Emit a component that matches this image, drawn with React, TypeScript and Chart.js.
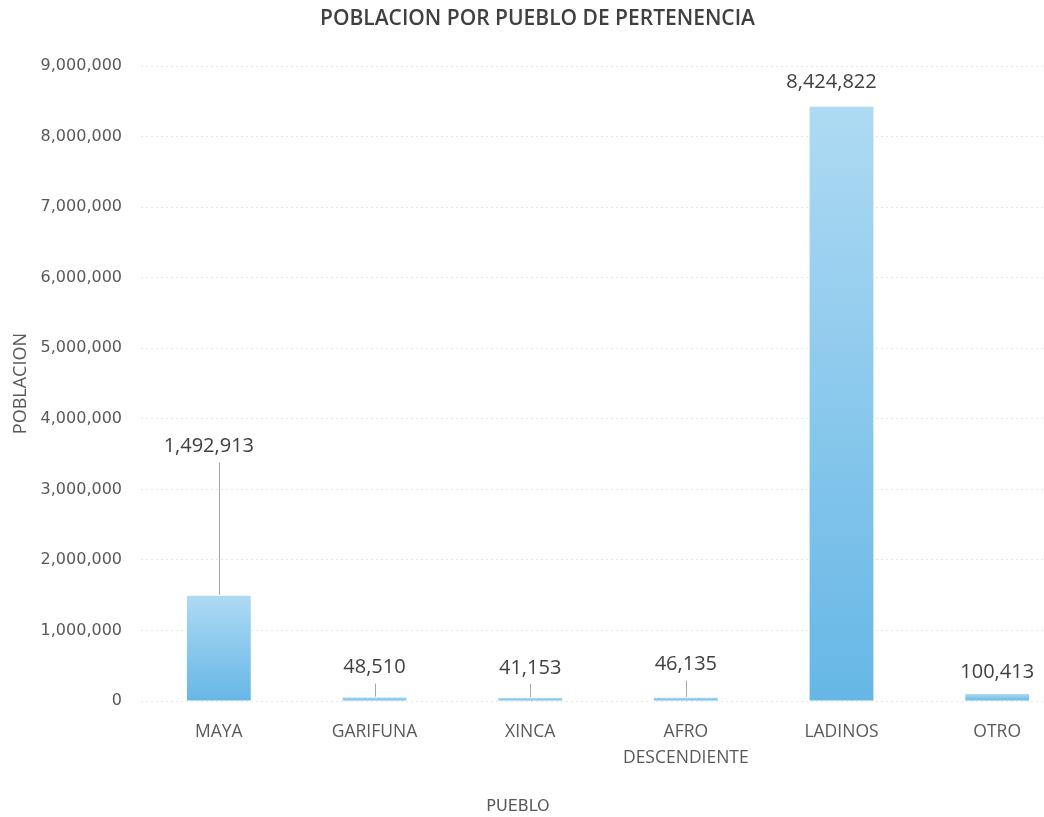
import React, { useEffect, useRef } from 'react';
import { Chart, registerables } from 'chart.js';

Chart.register(...registerables);

// ---- data ----
const categories: (string | string[])[] = ['MAYA', 'GARIFUNA', 'XINCA', ['AFRO', 'DESCENDIENTE'], 'LADINOS', 'OTRO'];
const population: number[] = [1492913, 48510, 41153, 46135, 8424822, 100413];
const yTickValues: number[] = [0, 1000000, 2000000, 3000000, 4000000, 5000000, 6000000, 7000000, 8000000, 9000000];
const chartTitle = 'POBLACION POR PUEBLO DE PERTENENCIA';
const xAxisTitle = 'PUEBLO';
const yAxisTitle = 'POBLACION';

// ---- label styling (pixel gap between bar top and label centre; x nudge; leader line flags) ----
const labelGap: number[] = [149, 30, 30, 33, 24, 22];
const labelDx: number[] = [-10, 0, 0, 0, -10, 0];
const labelLeader: boolean[] = [true, true, true, true, false, false];

const fmt = (v: number) => v.toLocaleString('en-US');

const dataLabelPlugin = {
  id: 'dataLabels',
  afterDatasetsDraw(chart: any) {
    const ctx = chart.ctx as CanvasRenderingContext2D;
    const meta = chart.getDatasetMeta(0);
    ctx.save();
    ctx.font = '20px "Open Sans", sans-serif';
    ctx.fillStyle = '#404040';
    ctx.textAlign = 'center';
    ctx.textBaseline = 'middle';
    meta.data.forEach((el: any, i: number) => {
      const x = el.x;
      const top = el.y;
      const ly = top - labelGap[i];
      ctx.fillText(fmt(population[i]), x + labelDx[i], ly);
      if (labelLeader[i]) {
        ctx.strokeStyle = '#a6a6a6';
        ctx.lineWidth = 1;
        ctx.beginPath();
        ctx.moveTo(Math.round(x) + 0.5, ly + 16);
        ctx.lineTo(Math.round(x) + 0.5, top - 1);
        ctx.stroke();
      }
    });
    // x axis title
    ctx.font = '16px "DejaVu Sans", sans-serif';
    ctx.fillStyle = '#595959';
    ctx.fillText(xAxisTitle, chart.width / 2 - 20, chart.height - 10);
    ctx.restore();
  },
};

export default function App() {
  const ref = useRef<HTMLCanvasElement | null>(null);

  useEffect(() => {
    if (!ref.current) return;
    const chart = new Chart(ref.current, {
      type: 'bar',
      data: {
        labels: categories,
        datasets: [
          {
            data: population,
            backgroundColor: (c: any) => {
              const ch = c.chart;
              const { chartArea, scales } = ch;
              if (!chartArea || c.type !== 'data' || !scales.y) return '#8ccdee';
              const v = c.raw as number;
              const top = scales.y.getPixelForValue(v);
              const bottom = scales.y.getPixelForValue(0);
              if (bottom - top < 1) return '#6ab9e6';
              const g = ch.ctx.createLinearGradient(0, top, 0, bottom);
              g.addColorStop(0, '#aedaf3');
              g.addColorStop(1, '#66b7e6');
              return g;
            },
            borderWidth: 0,
            barPercentage: 0.41,
            categoryPercentage: 1,
          },
        ],
      },
      options: {
        responsive: false,
        animation: false,
        layout: { padding: { left: 0, right: 1, top: 0, bottom: 0 } },
        plugins: {
          legend: { display: false },
          tooltip: { enabled: false },
          title: {
            display: true,
            text: chartTitle,
            color: '#404040',
            font: { family: '"Open Sans", sans-serif', size: 21, weight: '600' },
            padding: { top: 6, bottom: 35 },
          },
        },
        scales: {
          x: {
            grid: { display: false, drawTicks: false },
            border: { display: false },
            ticks: {
              color: '#595959',
              font: { family: '"Open Sans", sans-serif', size: 17.5, lineHeight: 1.43 },
              padding: 19,
              maxRotation: 0,
              autoSkip: false,
            },
            afterFit: (s: any) => {
              s.height = 116;
            },
          },
          y: {
            min: 0,
            max: 9000000,
            afterBuildTicks: (s: any) => {
              s.ticks = yTickValues.map((v) => ({ value: v }));
            },
            grid: { color: '#e6e6e6', lineWidth: 1, drawTicks: false },
            border: { display: false, dash: [2, 3] },
            ticks: {
              color: '#595959',
              font: { family: '"DejaVu Sans", sans-serif', size: 16 },
              padding: 19,
              callback: (v: any) => fmt(Number(v)),
            },
            title: {
              display: true,
              text: yAxisTitle,
              color: '#595959',
              font: { family: '"Open Sans", sans-serif', size: 18, weight: 'normal' },
              padding: { top: 10, bottom: 0 },
            },
            afterFit: (s: any) => {
              s.width = 141;
            },
          },
        },
      },
      plugins: [dataLabelPlugin],
    });
    return () => chart.destroy();
  }, []);

  return (
    <div
      style={{
        position: 'fixed',
        left: 0,
        top: 0,
        width: 1044,
        height: 817,
        overflow: 'hidden',
        background: '#ffffff',
      }}
    >
      <canvas ref={ref} width={1076} height={817} style={{ width: 1076, height: 817, display: 'block' }} />
    </div>
  );
}
